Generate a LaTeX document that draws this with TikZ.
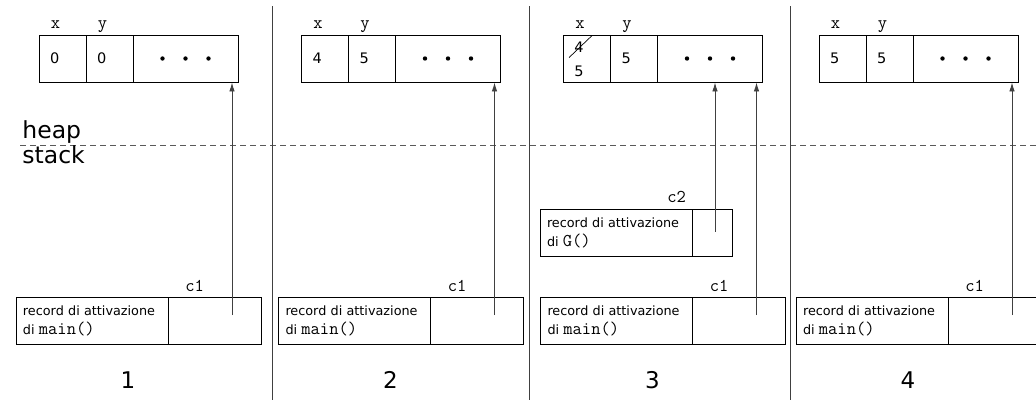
\documentclass[tikz,border=0pt]{standalone}
\usepackage{fontspec}
\setmainfont{DejaVu Sans}
\usepackage{tikz}
\usetikzlibrary{positioning,arrows.meta}
\newcommand\fncall[1]{{\fontsize{18}{18}\selectfont\ttfamily #1}}

\begin{document}
\begin{tikzpicture}[x=1pt, y=-1pt, line width=0.9pt,
    cell/.style={draw, minimum height=47pt, inner sep=0pt},
    valcell/.style={cell, text width=25pt, inner xsep=11pt, align=left,
                    font=\fontsize{14.5}{16}\selectfont},
    valtxt/.style={inner sep=0pt, font=\fontsize{14.5}{16}\selectfont},
    actcell/.style={draw, minimum height=47pt, text width=138pt,
                    inner xsep=7pt, inner ysep=0pt, align=left,
                    font=\fontsize{12.8}{19}\selectfont},
    refcell/.style={draw, minimum height=47pt, minimum width=93pt},
    lbl/.style={inner sep=0pt, font=\fontsize{18}{18}\selectfont\ttfamily},
    side/.style={inner sep=0pt, font=\fontsize{23.5}{23.5}\selectfont},
    num/.style={font=\fontsize{23}{23}\selectfont},
    ptr/.style={draw=black!75, -{Latex[length=9pt,width=5.5pt]}},
    sep/.style={draw=black!75},
]
\clip (0,0) rectangle (1036,400);

% heap / stack boundary
\draw[black!65, dash pattern=on 6pt off 4pt] (20,145) -- (1036,145);
\node[side, anchor=base west] (heaplbl) at (22,138) {heap};
\node[side, anchor=base west] (stacklbl) at (22,163) {stack};

% panel separators
\draw[sep] (272,6) -- (272,400);
\draw[sep] (529,6) -- (529,400);
\draw[sep] (790,6) -- (790,400);

\foreach \i/\xs/\xv/\yv in {1/0/0/0, 2/262.5/4/5, 3/524.5/{}/5, 4/780/5/5} {
  % object on the heap
  \node[valcell] (hx\i) at (62.5+\xs, 58.5) {\xv};
  \node[valcell, right=-\pgflinewidth of hx\i] (hy\i) {\yv};
  \node[cell, minimum width=105pt, right=-\pgflinewidth of hy\i] (hd\i) {};
  \foreach \dx in {-23,0,23}
    \fill ([xshift=\dx pt]hd\i.center) circle (2.2pt);
  \node[lbl, anchor=base] (lx\i) at ([xshift=17pt,yshift=6pt]hx\i.north west) {x};
  \node[lbl, anchor=base] (ly\i) at ([xshift=17pt,yshift=6pt]hy\i.north west) {y};

  % activation record of main()
  \node[actcell] (act\i) at (92+\xs, 320.5) {record di attivazione\\di \fncall{main()}};
  \node[refcell, right=-\pgflinewidth of act\i] (ref\i) {};
  \node[lbl, anchor=base] (c\i) at ([xshift=27pt,yshift=5pt]ref\i.north west) {c1};
  \coordinate (s\i) at ([xshift=17.5pt,yshift=5.5pt]ref\i.center);
  \draw[ptr] (s\i) -- (s\i |- hd\i.south);

  \node[num] (n\i) at (128+\xs, 380) {\i};
}

% panel 3: x overwritten, record of G()
\node[valtxt] (old3) at ([xshift=16pt,yshift=-13pt]hx3.north west) {4};
\node[valtxt] (new3) at ([xshift=16pt,yshift=11pt]hx3.south west) {5};
\draw[line width=0.7pt] ([shift={(-10pt,-10pt)}]old3.center) -- ([shift={(13pt,12pt)}]old3.center);

\node[actcell] (actG) at (616, 233) {record di attivazione\\di \fncall{G()}};
\node[refcell, minimum width=40pt, right=-\pgflinewidth of actG] (refG) {};
\node[lbl, anchor=base] (c2) at ([xshift=-15pt,yshift=7pt]refG.north west) {c2};
\coordinate (sG) at ([xshift=3pt,yshift=1.5pt]refG.center);
\draw[ptr] (sG) -- (sG |- hd3.south);
\end{tikzpicture}
\end{document}
